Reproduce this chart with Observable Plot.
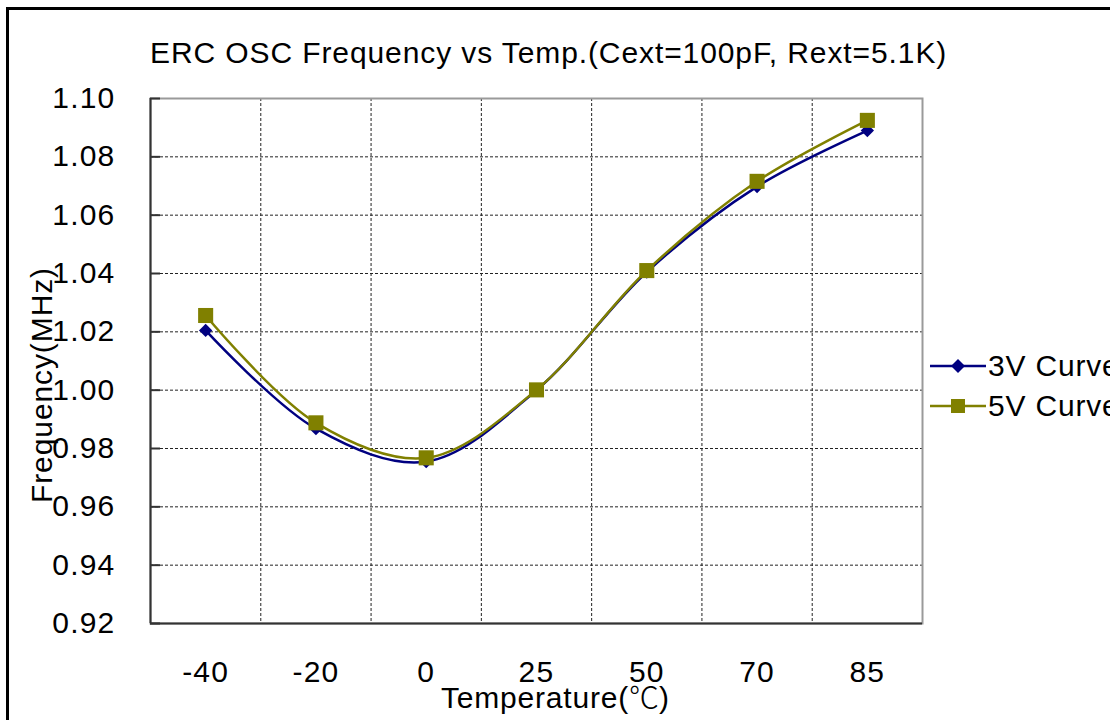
<!DOCTYPE html>
<html><head><meta charset="utf-8">
<script src="https://cdn.jsdelivr.net/npm/d3@7"></script>
<script src="https://cdn.jsdelivr.net/npm/@observablehq/plot@0.6"></script>
<style>
html,body{margin:0;padding:0;background:#fff;overflow:hidden;width:1110px;height:720px;}
#wrap{position:relative;width:1110px;height:720px;font-family:"Liberation Sans",Arial,sans-serif;}
#frame{position:absolute;left:6px;top:7px;width:1120px;height:730px;border:3px solid #000;box-sizing:border-box;}
#title{position:absolute;left:150px;top:36px;font-size:30px;letter-spacing:0.9px;white-space:nowrap;color:#000;}
#xlabel{position:absolute;left:441px;top:673px;font-size:30px;letter-spacing:0.8px;white-space:nowrap;color:#000;}
#ylabel{position:absolute;left:42px;top:385px;transform:translate(-50%,-50%) rotate(-90deg);font-size:30px;letter-spacing:0.9px;white-space:nowrap;color:#000;}
#legend{position:absolute;left:930px;top:346px;font-size:30px;letter-spacing:0.8px;white-space:nowrap;}
.li{display:flex;align-items:center;height:40px;}
.li svg{margin-right:2px;}
.cjk{font-family:"Noto Sans CJK SC",sans-serif;font-weight:300;letter-spacing:0;}
#chart{position:absolute;left:0;top:0;}
#chart text{letter-spacing:1.2px;}
</style></head>
<body><div id="wrap"><div id="chart"></div>
<div id="title"></div><div id="xlabel"></div><div id="ylabel"></div><div id="legend"></div><div id="frame"></div></div>
<script>
const titleText = "ERC OSC Frequency vs Temp.(Cext=100pF, Rext=5.1K)";
const xTitle = "Temperature(";
const xTitleUnit = "℃";
const yTitle = "Frequency(MHz)";
const categories = ["-40", "-20", "0", "25", "50", "70", "85"];
const v3 = [1.0205, 0.9868, 0.9755, 1.0000, 1.0405, 1.0698, 1.0890];
const v5 = [1.0256, 0.9888, 0.9768, 1.0001, 1.0410, 1.0716, 1.0925];
const seriesNames = ["3V Curve", "5V Curve"];
const colors = ["#000080", "#808000"];
const yTicks = [0.92, 0.94, 0.96, 0.98, 1.00, 1.02, 1.04, 1.06, 1.08, 1.10];

const rows = [];
categories.forEach((c, i) => {
  rows.push({i, s: seriesNames[0], v: v3[i]});
  rows.push({i, s: seriesNames[1], v: v5[i]});
});
const idx = categories.map((c, i) => i);
const bounds = categories.slice(1).map((c, i) => i + 0.5);
const innerY = yTicks.slice(1, -1);

const chart = Plot.plot({
  width: 1110, height: 720,
  marginLeft: 150, marginTop: 98, marginRight: 188, marginBottom: 97,
  style: {fontFamily: "Liberation Sans, Arial, sans-serif", fontSize: "30px", color: "#000", background: "transparent"},
  x: {domain: [-0.5, categories.length - 0.5]},
  y: {domain: [0.92, 1.10]},
  marks: [
    Plot.ruleX(bounds, {stroke: "#222", strokeDasharray: "3,2", strokeWidth: 1}),
    Plot.ruleY(innerY, {stroke: "#222", strokeDasharray: "3,2", strokeWidth: 1}),
    Plot.frame({stroke: "#9a9a9a", strokeWidth: 2}),
    Plot.ruleY([0.92], {stroke: "#333", strokeWidth: 2}),
    Plot.ruleX([-0.5], {stroke: "#333", strokeWidth: 2}),
    Plot.axisY({ticks: yTicks, tickFormat: d3.format(".2f"), tickSize: -10, tickPadding: 45, label: null, fontSize: 30, stroke: "#333", strokeWidth: 2}),
    Plot.axisX({ticks: idx, tickFormat: i => categories[i], tickSize: 0, tickPadding: 37, label: null, fontSize: 30}),
    Plot.line(rows.filter(d => d.s === seriesNames[0]), {x: "i", y: "v", stroke: colors[0], strokeWidth: 2.5, curve: "catmull-rom"}),
    Plot.line(rows.filter(d => d.s === seriesNames[1]), {x: "i", y: "v", stroke: colors[1], strokeWidth: 2.5, curve: "catmull-rom"}),
    Plot.dot(rows.filter(d => d.s === seriesNames[0]), {x: "i", y: "v", fill: colors[0], symbol: "diamond2", r: 6}),
    Plot.dot(rows.filter(d => d.s === seriesNames[1]), {x: "i", y: "v", fill: colors[1], symbol: "square", r: 8.5})
  ]
});
document.getElementById("chart").appendChild(chart);
document.getElementById("title").textContent = titleText;
const xl = document.getElementById("xlabel");
xl.appendChild(document.createTextNode(xTitle));
const u = document.createElement("span"); u.className = "cjk"; u.textContent = xTitleUnit; xl.appendChild(u);
xl.appendChild(document.createTextNode(")"));
document.getElementById("ylabel").textContent = yTitle;
const leg = document.getElementById("legend");
seriesNames.forEach((n, k) => {
  const div = document.createElement("div");
  div.className = "li";
  const marker = k === 0
    ? `<polygon points="28,3 35,10 28,17 21,10" fill="${colors[0]}"/>`
    : `<rect x="21" y="3" width="14" height="14" fill="${colors[1]}"/>`;
  div.innerHTML = `<svg width="56" height="20"><line x1="0" x2="56" y1="10" y2="10" stroke="${colors[k]}" stroke-width="2.5"/>${marker}</svg><span>${n}</span>`;
  leg.appendChild(div);
});
</script></body></html>
